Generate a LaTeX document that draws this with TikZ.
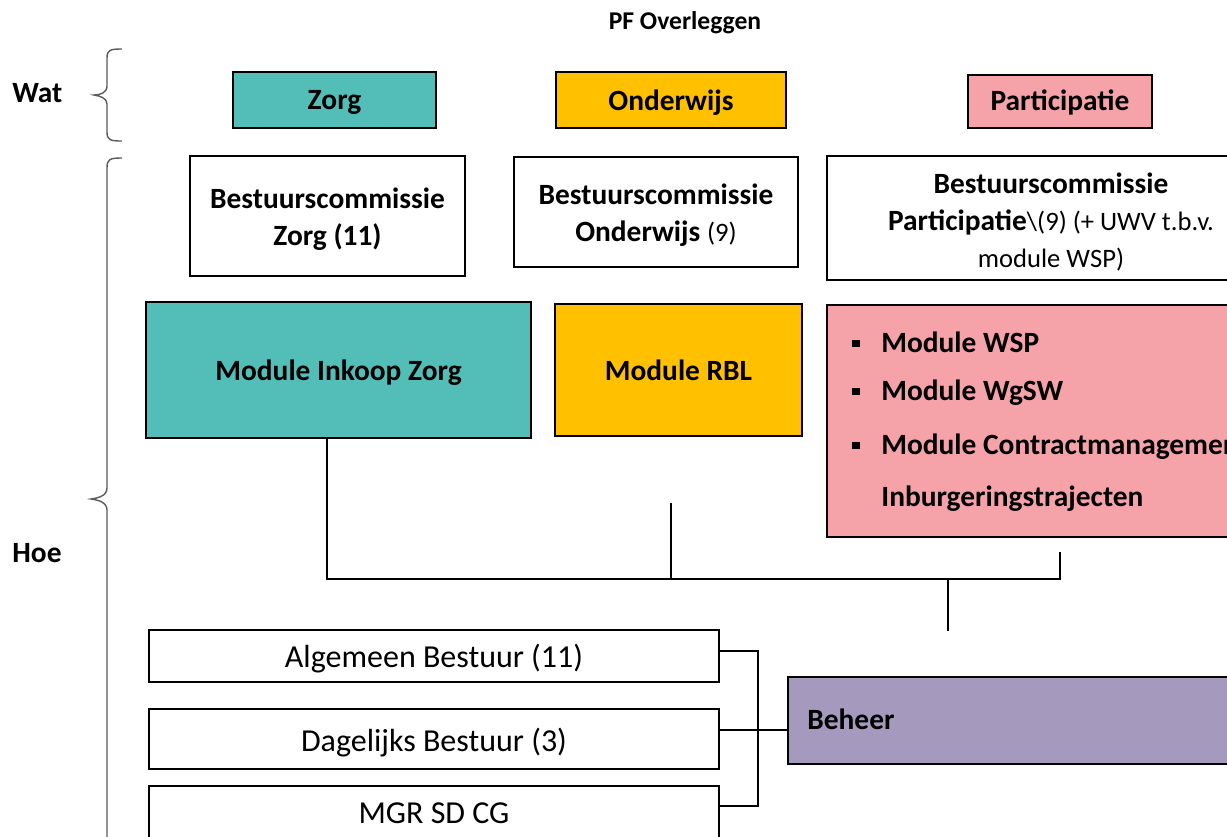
\documentclass[tikz,border=0pt]{standalone}
\usepackage{fontspec}
\setmainfont{Carlito}
\usetikzlibrary{calc}
\definecolor{zteal}{RGB}{83,190,184}
\definecolor{zgold}{RGB}{255,192,0}
\definecolor{zpink}{RGB}{245,163,169}
\definecolor{zpurple}{RGB}{165,154,190}
\definecolor{zgray}{RGB}{90,90,90}
\newcommand\fbig{\fontsize{14.7}{18.5}\selectfont\bfseries}
\newcommand\freg{\fontsize{16}{19}\selectfont\mdseries}
\newcommand\fsm{\fontsize{13.3}{18}\selectfont\mdseries}
\newcommand\zbul{\makebox[14.5pt][l]{\rule[3pt]{3.6pt}{3.6pt}}}
\begin{document}
\begin{tikzpicture}[x=0.5pt,y=-0.5pt,
  boxx/.style={draw=black,line width=1pt,inner sep=0pt},
  conn/.style={draw=black,line width=0.8pt},
  brace/.style={draw=zgray,line width=0.7pt},
  lbl/.style={inner sep=0pt,font=\fbig,align=center}]
\useasboundingbox (0,0) rectangle (1227,836);
\clip (0,0) rectangle (1227,836);
\fill[white] (0,0) rectangle (1227,836);
% title and labels
\node[lbl,font=\fontsize{12.8}{15}\selectfont\bfseries] (title) at (685,23) {PF Overleggen};
\node[lbl,anchor=west] (wat) at (12,93) {Wat};
\node[lbl,anchor=west] (hoe) at (12,553) {Hoe};
% braces
\draw[brace] (122,49) .. controls (110,49) and (107,50) .. (107,58) -- (107,86)
  .. controls (107,93) and (100,95) .. (94,95) .. controls (100,96) and (107,98) .. (107,104)
  -- (107,132) .. controls (107,140) and (110,141) .. (122,141);
\draw[brace] (122,158) .. controls (110,158) and (107,159) .. (107,168) -- (107,488)
  .. controls (107,496) and (98,498) .. (91,499) .. controls (98,500) and (107,502) .. (107,510)
  -- (107,870);
% top row
\node[boxx,fill=zteal,minimum width=101.5pt,minimum height=28pt] (zorg) at (334.5,100) {};
\node[lbl] (zorgt) at ([yshift=-1pt]zorg.center) {Zorg};
\node[boxx,fill=zgold,minimum width=115pt,minimum height=28pt] (ond) at (671,100) {};
\node[lbl] (ondt) at ([yshift=-1.2pt]ond.center) {Onderwijs};
\node[boxx,fill=zpink,minimum width=92pt,minimum height=26.5pt] (part) at (1060,101.5) {};
\node[lbl] (partt) at ([yshift=-0.5pt]part.center) {Participatie};
% bestuurscommissies
\node[boxx,fill=white,minimum width=137.5pt,minimum height=60pt] (bcz) at (327.5,216) {};
\node[lbl] (bczt) at ([yshift=-1.5pt]bcz.center) {Bestuurscommissie\\Zorg (11)};
\node[boxx,fill=white,minimum width=142pt,minimum height=55pt] (bco) at (656,212) {};
\node[lbl] (bcot) at ([yshift=-1.8pt]bco.center) {Bestuurscommissie\\Onderwijs {\fsm(9)}};
\node[boxx,fill=white,minimum width=224pt,minimum height=62pt] (bcp) at (1051,218) {};
\node[lbl] (bcpt) at ([yshift=-2.2pt]bcp.center)
  {Bestuurscommissie\\Participatie{\fsm\textbackslash(9) (+ UWV t.b.v.}\\{\fsm module WSP)}};
% modules
\node[boxx,fill=zteal,minimum width=192.5pt,minimum height=68pt] (inkoop) at (338.5,370) {};
\node[lbl] (inkoopt) at ([yshift=-1.5pt]inkoop.center) {Module Inkoop Zorg};
\node[boxx,fill=zgold,minimum width=123.5pt,minimum height=66pt] (rbl) at (678.5,370) {};
\node[lbl] (rblt) at ([yshift=-0.3pt]rbl.center) {Module RBL};
\node[boxx,fill=zpink,anchor=north west,minimum width=240pt,minimum height=116pt] (pmod) at (826,304) {};
\node[lbl,anchor=mid west] (m1) at (852,348) {\zbul Module WSP};
\node[lbl,anchor=mid west] (m2) at (852,396) {\zbul Module WgSW};
\node[lbl,anchor=mid west] (m3) at (852,450) {\zbul Module Contractmanagement};
\node[lbl,anchor=mid west] (m4) at (881,502) {Inburgeringstrajecten};
% connectors between modules
\coordinate (j1) at (327,579);
\coordinate (j3) at (1060,579);
\coordinate (r1) at (671,503);
\coordinate (p1) at (1060,552);
\coordinate (b1) at (948,579);
\coordinate (b2) at (948,631);
\draw[conn] (inkoop.south -| j1) -- (j1) -- (j3) -- (p1);
\draw[conn] (r1) -- (r1 |- j1);
\draw[conn] (b1) -- (b2);
% bestuur boxes
\node[boxx,fill=white,minimum width=285pt,minimum height=26pt] (ab) at (434,656) {};
\node[lbl,font=\freg] (abt) at ([yshift=-1.5pt]ab.center) {Algemeen Bestuur (11)};
\node[boxx,fill=white,minimum width=285pt,minimum height=30pt] (db) at (434,739) {};
\node[lbl,font=\freg] (dbt) at ([yshift=-1.8pt]db.center) {Dagelijks Bestuur (3)};
\node[boxx,fill=white,minimum width=285pt,minimum height=27pt] (mgr) at (434,813) {};
\node[lbl,font=\freg] (mgrt) at (mgr.center) {MGR SD CG};
\node[boxx,fill=zpurple,anchor=north west,minimum width=240pt,minimum height=43.5pt] (beh) at (787,676) {};
\node[lbl,anchor=west] (behtxt) at (807,719) {Beheer};
% bracket
\coordinate (bk1) at (758,651);
\coordinate (bk2) at (758,806);
\coordinate (bm) at (0,730);
\draw[conn] (ab.east |- bk1) -- (bk1) -- (bk2) -- (mgr.east |- bk2);
\draw[conn] (db.east |- bm) -- (beh.west |- bm);
\end{tikzpicture}
\end{document}
